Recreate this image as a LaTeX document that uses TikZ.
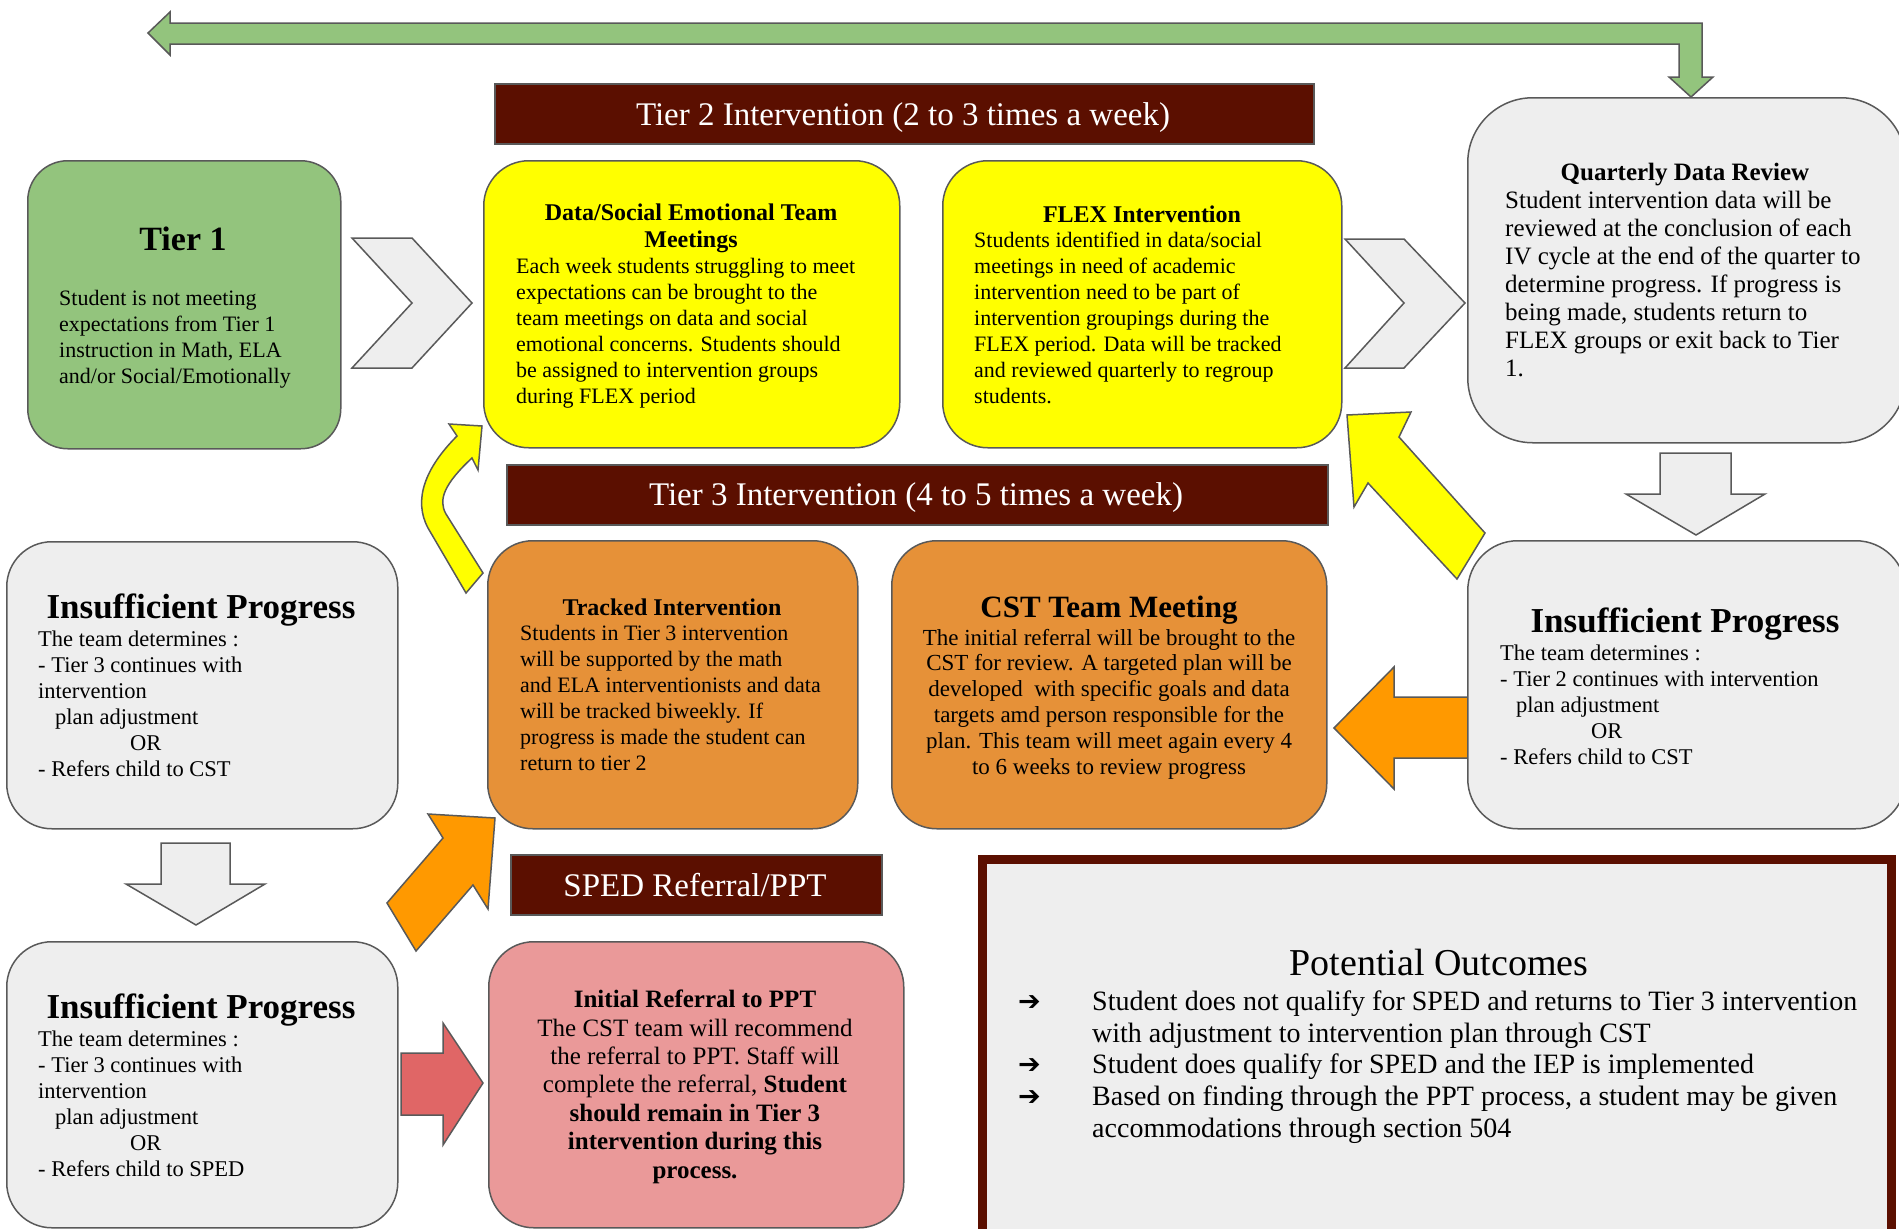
\documentclass[tikz,border=0pt]{standalone}
\usepackage{fontspec}
\setmainfont{Liberation Serif}
\newfontfamily\symfont{DejaVu Sans}
\definecolor{tgreen}{HTML}{93C47D}
\definecolor{tgray}{HTML}{EEEEEE}
\definecolor{tyellow}{HTML}{FFFF00}
\definecolor{torange}{HTML}{E69138}
\definecolor{tarrow}{HTML}{FF9900}
\definecolor{tdark}{HTML}{5B0F00}
\definecolor{tpink}{HTML}{EA9999}
\definecolor{tred}{HTML}{E06666}
\definecolor{tline}{HTML}{595959}
\tikzset{
  box/.style={draw=tline, line width=1.5pt, rounded corners=45pt, anchor=north west, inner sep=0pt},
  banner/.style={draw=tline, line width=1.5pt, fill=tdark, anchor=north west, inner sep=0pt},
  bannertext/.style={anchor=base, inner sep=0pt, text=white, font=\fontsize{33}{38}\selectfont},
  blk/.style={draw=tline, line width=1.5pt, line join=miter},
  bar/.style={draw=none, line width=23pt, tdark},
  title/.style={anchor=base, inner sep=0pt, align=center, font=\bfseries\fontsize{24}{27}\selectfont},
  bigtitle/.style={anchor=base, inner sep=0pt, align=center, font=\bfseries\fontsize{35}{40}\selectfont},
  body/.style={anchor=base west, inner sep=0pt, align=left, font=\fontsize{22}{26}\selectfont},
  bullet/.style={anchor=base west, inner sep=0pt, font=\symfont\bfseries\fontsize{27}{30}\selectfont},
}
% NOTE: multi-line nodes are placed by the baseline of their LAST line
\begin{document}
\begin{tikzpicture}[x=1pt,y=-1pt]
\useasboundingbox (0,0) rectangle (1899,1229);
\clip (0,0) rectangle (1899,1229);

% top green return arrow
\draw[blk, fill=tgreen] (148,33) -- (170,12) -- (170,23) -- (1702,23) -- (1702,77) -- (1713,77) -- (1691,97) -- (1669,77) -- (1679,77) -- (1679,44) -- (170,44) -- (170,55) -- cycle;

% banners
\node[banner, minimum width=819pt, minimum height=60pt] (b2) at (494,83) {};
\node[bannertext] (b2t) at (903,125) {Tier 2 Intervention (2 to 3 times a week)};
\node[banner, minimum width=821pt, minimum height=60pt] (b3) at (506,464) {};
\node[bannertext] (b3t) at (916,505) {Tier 3 Intervention (4 to 5 times a week)};
\node[banner, minimum width=371pt, minimum height=60pt] (bs) at (510,854) {};
\node[bannertext] (bst) at (695,896) {SPED Referral/PPT};

% block arrows drawn beneath boxes
\draw[blk, fill=tarrow] (1468,697) -- (1394,697) -- (1394,667) -- (1334,728) -- (1394,789) -- (1394,758) -- (1468,758) -- cycle;
\draw[blk, fill=tgray] (352,238) -- (412,238) -- (472,303) -- (412,368) -- (352,368) -- (412,303) -- cycle;
\draw[blk, fill=tgray] (1345,239) -- (1404,239) -- (1465,303) -- (1404,368) -- (1345,368) -- (1404,303) -- cycle;
\draw[blk, fill=tgray] (1660,453) -- (1731,453) -- (1731,494) -- (1765,494) -- (1696,535) -- (1626,494) -- (1660,494) -- cycle;
\draw[blk, fill=tgray] (161,843) -- (230,843) -- (230,884) -- (265,884) -- (196,925) -- (126,884) -- (161,884) -- cycle;
\draw[blk, fill=tred] (401,1053) -- (443,1053) -- (443,1023) -- (483,1083) -- (443,1145) -- (443,1115) -- (401,1115) -- cycle;
\draw[blk, fill=tyellow] (1347,415) -- (1411,412) -- (1399,437) -- (1485,533) -- (1457,579) -- (1368,483) -- (1354,507) -- cycle;
\draw[blk, fill=tyellow] (482,426) -- (449,424) -- (457,436) .. controls (425,468) and (413,500) .. (428,528) -- (466,593) -- (483,573) -- (446,514) .. controls (438,500) and (444,484) .. (472,458) -- (478,470) -- cycle;
\draw[blk, fill=tarrow] (387,903) -- (443,838) -- (428,814) -- (495,818) -- (488,909) -- (473,885) -- (416,951) -- cycle;

% Tier 1
\node[box, fill=tgreen, rounded corners=40pt, minimum width=313pt, minimum height=288pt] (t1) at (27,160) {};
\node[anchor=base, inner sep=0pt, font=\bfseries\fontsize{34}{40}\selectfont] (t1t) at (183,250) {Tier 1};
\node[body] (t1b) at (59,383) {Student is not meeting\\expectations from Tier 1\\instruction in Math, ELA\\and/or Social/Emotionally};

% Tier 2 boxes
\node[box, fill=tyellow, minimum width=416pt, minimum height=287pt] (data) at (483,160) {};
\node[box, fill=tyellow, minimum width=399pt, minimum height=287pt] (flex) at (942,160) {};
\draw[bar] (data.east) -- (flex.west);
\node[title] (datat) at (691,247) {Data/Social Emotional Team\\Meetings};
\node[body] (datab) at (516,403) {Each week students struggling to meet\\expectations can be brought to the\\team meetings on data and social\\emotional concerns. Students should\\be assigned to intervention groups\\during FLEX period};
\node[title] (flext) at (1142,222) {FLEX Intervention};
\node[body] (flexb) at (974,403) {Students identified in data/social\\meetings in need of academic\\intervention need to be part of\\intervention groupings during the\\FLEX period. Data will be tracked\\and reviewed quarterly to regroup\\students.};

% Quarterly data review
\node[box, fill=tgray, rounded corners=65pt, minimum width=438pt, minimum height=345pt] (qdr) at (1467,97) {};
\node[title, font=\bfseries\fontsize{25}{28}\selectfont] (qdrt) at (1685,180) {Quarterly Data Review};
\node[body, font=\fontsize{25}{28}\selectfont] (qdrb) at (1505,376) {Student intervention data will be\\reviewed at the conclusion of each\\IV cycle at the end of the quarter to\\determine progress. If progress is\\being made, students return to\\FLEX groups or exit back to Tier\\1.};

% Insufficient progress right
\node[box, fill=tgray, rounded corners=50pt, minimum width=438pt, minimum height=288pt] (ipr) at (1467,540) {};
\node[bigtitle] (iprt) at (1685,632) {Insufficient Progress};
\node[body, font=\fontsize{22.5}{25.8}\selectfont] (iprb) at (1500,764) {The team determines :\\- Tier 2 continues with intervention\\\hspace*{16pt}plan adjustment\\\hspace*{91pt}OR\\- Refers child to CST};

% Tier 3 boxes
\node[box, fill=torange, minimum width=370pt, minimum height=288pt] (trk) at (487,540) {};
\node[box, fill=torange, minimum width=435pt, minimum height=288pt] (cst) at (891,540) {};
\draw[bar] (trk.east) -- (cst.west);
\node[title] (trkt) at (672,615) {Tracked Intervention};
\node[body] (trkb) at (520,770) {Students in Tier 3 intervention\\will be supported by the math\\and ELA interventionists and data\\will be tracked biweekly. If\\progress is made the student can\\return to tier 2};
\node[title, font=\bfseries\fontsize{31}{36}\selectfont] (cstt) at (1109,617) {CST Team Meeting};
\node[title, font=\fontsize{23}{25.8}\selectfont] (cstb) at (1109,774) {The initial referral will be brought to the\\CST for review. A targeted plan will be\\developed\ \ with specific goals and data\\targets amd person responsible for the\\plan. This team will meet again every 4\\to 6 weeks to review progress};

% Insufficient progress left (upper)
\node[box, fill=tgray, minimum width=391pt, minimum height=287pt] (ipl) at (6,541) {};
\node[bigtitle] (iplt) at (201,618) {Insufficient Progress};
\node[body, font=\fontsize{22.5}{26}\selectfont] (iplb) at (38,776) {The team determines :\\- Tier 3 continues with\\intervention\\\hspace*{17pt}plan adjustment\\\hspace*{92pt}OR\\- Refers child to CST};

% Insufficient progress left (lower)
\node[box, fill=tgray, minimum width=391pt, minimum height=286pt] (ips) at (6,941) {};
\node[bigtitle] (ipst) at (201,1018) {Insufficient Progress};
\node[body, font=\fontsize{22.5}{26}\selectfont] (ipsb) at (38,1176) {The team determines :\\- Tier 3 continues with\\intervention\\\hspace*{17pt}plan adjustment\\\hspace*{92pt}OR\\- Refers child to SPED};

% Initial referral to PPT
\node[box, fill=tpink, minimum width=415pt, minimum height=286pt] (ppt) at (488,941) {};
\node[title, font=\fontsize{25}{28.4}\selectfont] (pptb) at (695,1178) {\textbf{Initial Referral to PPT}\\The CST team will recommend\\the referral to PPT. Staff will\\complete the referral, \textbf{Student}\\\textbf{should remain in Tier 3}\\\textbf{intervention during this}\\\textbf{process.}};

% Potential outcomes
\node[draw=tdark, line width=9pt, fill=tgray, anchor=north west, inner sep=0pt, minimum width=909pt, minimum height=420pt] (po) at (978,855) {};
\node[anchor=base, inner sep=0pt, font=\fontsize{38}{44}\selectfont] (pot) at (1439,975) {Potential Outcomes};
\node[bullet] (pa1) at (1018,1010) {➔};
\node[bullet] (pa2) at (1018,1073) {➔};
\node[bullet] (pa3) at (1018,1105) {➔};
\node[body, font=\fontsize{28}{32}\selectfont] (po1) at (1092,1042) {Student does not qualify for SPED and returns to Tier 3 intervention\\with adjustment to intervention plan through CST};
\node[body, font=\fontsize{28}{32}\selectfont] (po2) at (1092,1073) {Student does qualify for SPED and the IEP is implemented};
\node[body, font=\fontsize{28}{32}\selectfont] (po3) at (1092,1137) {Based on finding through the PPT process, a student may be given\\accommodations through section 504};
\end{tikzpicture}
\end{document}
